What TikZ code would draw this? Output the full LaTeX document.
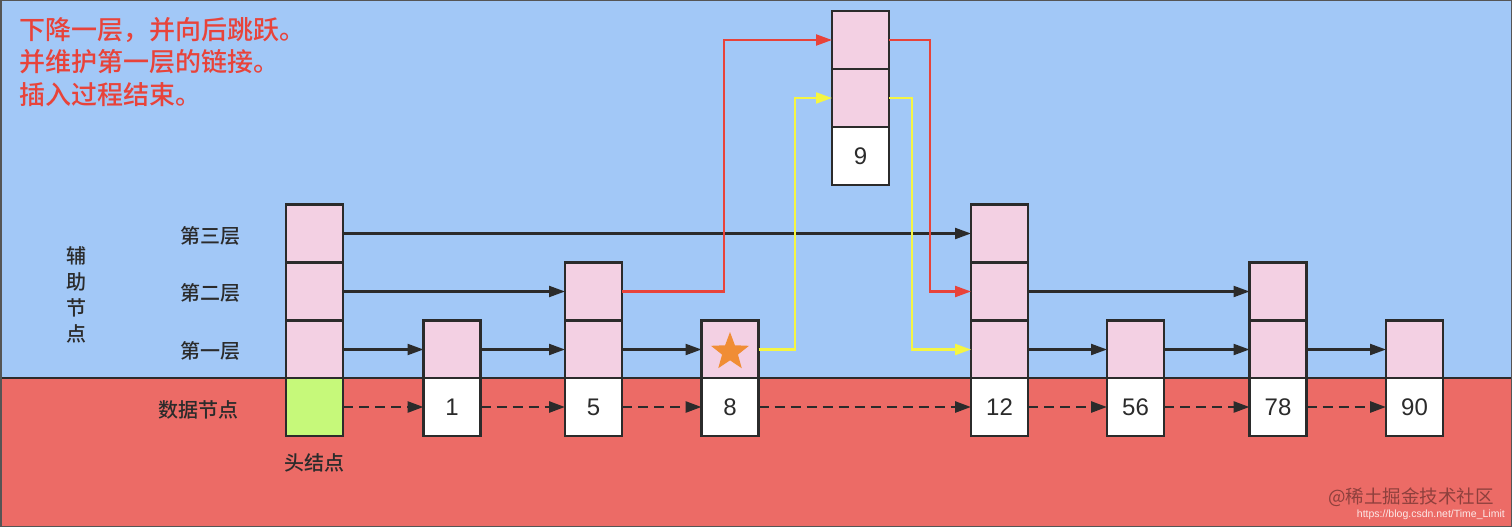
\documentclass[tikz,border=0pt]{standalone}
\usepackage{fontspec}
\setmainfont{Liberation Sans}
\newfontfamily\cjk{Noto Sans CJK SC}
\newfontfamily\cjkb{Noto Sans CJK SC Medium}
\usetikzlibrary{arrows.meta,shapes.geometric}
\definecolor{bgblue}{HTML}{A2C8F7}
\definecolor{bgred}{HTML}{EC6B66}
\definecolor{pinkbox}{HTML}{F3D0E3}
\definecolor{greenbox}{HTML}{C6F97A}
\definecolor{linered}{HTML}{E8433A}
\definecolor{lineyel}{HTML}{F5F542}
\definecolor{ink}{HTML}{2B2B2B}
\definecolor{starorange}{HTML}{F08A2C}
\tikzset{
  x=1pt,y=-1pt,
  cell/.style={draw=ink,line width=2.8pt,minimum width=57pt,minimum height=58pt,inner sep=0pt,outer sep=0pt},
  idx/.style={cell,fill=pinkbox},
  dat/.style={cell,fill=white,font=\fontsize{24}{24}\selectfont\color{ink}},
  tip/.style={-{Triangle[length=16pt,width=11pt]}},
  link/.style={draw=ink,line width=2.2pt,tip},
  dlink/.style={link,line width=2.7pt,dash pattern=on 10pt off 6pt},
  rlink/.style={draw=linered,line width=2.2pt,tip,color=linered},
  ylink/.style={draw=lineyel,line width=2.2pt,tip,color=lineyel},
  lab/.style={font=\cjkb\fontsize{20}{20}\selectfont,text=ink,inner sep=0pt},
}
\begin{document}
\begin{tikzpicture}
\useasboundingbox (0,0) rectangle (1512,527);
\fill[bgblue] (0,0) rectangle (1512,378);
\fill[bgred] (0,378) rectangle (1512,527);
\draw[ink,line width=2.5pt] (0,378) -- (1512,378);
\draw[ink!80,line width=3pt] (0,0) rectangle (1512,527);

% top note
\node[anchor=north west,align=left,font=\cjkb\fontsize{26}{32.5}\selectfont,text=linered,inner sep=0pt] (note) at (19,17)
  {下降一层，并向后跳跃。\\并维护第一层的链接。\\插入过程结束。};

% left labels
\node[lab] (lv3) at (210,236) {第三层};
\node[lab] (lv2) at (210,293) {第二层};
\node[lab] (lv1) at (210,351) {第一层};
\node[lab] (ldat) at (198,410) {数据节点};
\node[lab,align=center,font=\cjkb\fontsize{20}{26}\selectfont] (aux) at (76,295) {辅\\助\\节\\点};
\node[lab] (headlab) at (314.5,463) {头结点};

% head column
\node[idx] (h3) at (314.5,233.5) {};
\node[idx] (h2) at (314.5,291.5) {};
\node[idx] (h1) at (314.5,349.5) {};
\node[cell,fill=greenbox] (hd) at (314.5,407) {};

% node 1
\node[idx] (a1) at (452,349.5) {};
\node[dat] (ad) at (452,407) {1};
% node 5
\node[idx] (b2) at (593.5,291.5) {};
\node[idx] (b1) at (593.5,349.5) {};
\node[dat] (bd) at (593.5,407) {5};
% node 8
\node[idx] (e1) at (730,349.5) {};
\node[dat] (ed) at (730,407) {8};
\node[star,star points=5,star point ratio=2.4,fill=starorange,fill opacity=0.95,draw=none,minimum size=40pt,inner sep=0pt] (st) at (730,352) {};
% node 9
\node[idx] (n9a) at (860.5,40) {};
\node[idx] (n9b) at (860.5,98) {};
\node[dat] (n9d) at (860.5,156) {9};
% node 12
\node[idx] (c3) at (999.5,233.5) {};
\node[idx] (c2) at (999.5,291.5) {};
\node[idx] (c1) at (999.5,349.5) {};
\node[dat] (cd) at (999.5,407) {12};
% node 56
\node[idx] (f1) at (1135.5,349.5) {};
\node[dat] (fd) at (1135.5,407) {56};
% node 78
\node[idx] (g2) at (1278,291.5) {};
\node[idx] (g1) at (1278,349.5) {};
\node[dat] (gd) at (1278,407) {78};
% node 90
\node[idx] (k1) at (1414.5,349.5) {};
\node[dat] (kd) at (1414.5,407) {90};

% level 3
\draw[link] (h3) -- (c3);
% level 2
\draw[link] (h2) -- (b2);
\draw[link] (c2) -- (g2);
% level 1
\draw[link] (h1) -- (a1);
\draw[link] (a1) -- (b1);
\draw[link] (b1) -- (e1);
\draw[link] (c1) -- (f1);
\draw[link] (f1) -- (g1);
\draw[link] (g1) -- (k1);
% data
\draw[dlink] (hd) -- (ad);
\draw[dlink] (ad) -- (bd);
\draw[dlink] (bd) -- (ed);
\draw[dlink] (ed) -- (cd);
\draw[dlink] (cd) -- (fd);
\draw[dlink] (fd) -- (gd);
\draw[dlink] (gd) -- (kd);

% detour lines
\coordinate (rx1) at (724,0);
\coordinate (rx2) at (930,0);
\coordinate (yx1) at (795,0);
\coordinate (yx2) at (912,0);
\draw[rlink] (b2.east) -| (rx1 |- n9a) -- (n9a.west);
\draw[rlink] (n9a.east) -| (rx2 |- c2) -- (c2.west);
\draw[ylink] (e1.east) -| (yx1 |- n9b) -- (n9b.west);
\draw[ylink] (n9b.east) -| (yx2 |- c1) -- (c1.west);

% watermark
\node[anchor=east,inner sep=0pt,font=\cjk\fontsize{18.5}{18.5}\selectfont,text=black!40!bgred] (wm) at (1494,497) {@稀土掘金技术社区};
\node[anchor=east,inner sep=0pt,font=\fontsize{10.5}{11}\selectfont,text=white!85!bgred] (url) at (1505,515) {https://blog.csdn.net/Time\_Limit};
\end{tikzpicture}
\end{document}
